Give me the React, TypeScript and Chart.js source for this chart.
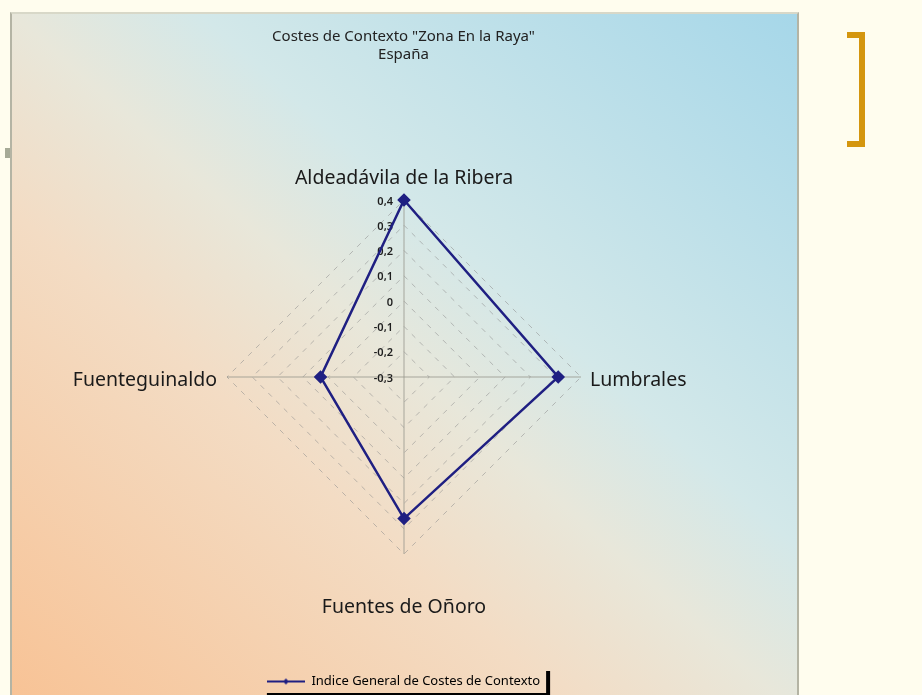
import React, { useEffect, useRef } from 'react';
import { Chart, registerables } from 'chart.js';

Chart.register(...registerables);

// ---- data ----
const categories = ['Aldeadávila de la Ribera', 'Lumbrales', 'Fuentes de Oñoro', 'Fuenteguinaldo'];
const indiceValues = [0.4, 0.31, 0.26, 0.03];
const seriesName = 'Indice General de Costes de Contexto';
const titleLines = ['Costes de Contexto "Zona En la Raya"', 'España'];
const tickMin = -0.3;
const tickMax = 0.4;
const tickStep = 0.1;

// ---- layout / style ----
const W = 922;
const H = 700;
const CX = 404;
const CY = 377;
const RADIUS = 177;
const LINE_COLOR = '#1f1f82';
const LABEL_FONT = '19.5px "Noto Sans"';
const labelPlacement = [
  { dist: 199, align: 'center', dy: 0 },
  { dist: 186, align: 'left', dy: 3 },
  { dist: 230, align: 'center', dy: 0 },
  { dist: 187, align: 'right', dy: 3 },
];

const formatTick = (v: number) => {
  const r = Math.round(v * 10) / 10;
  return r === 0 ? '0' : r.toFixed(1).replace('.', ',');
};

function makeLegendMarker(): HTMLCanvasElement {
  const c = document.createElement('canvas');
  c.width = 38;
  c.height = 10;
  const g = c.getContext('2d')!;
  g.strokeStyle = LINE_COLOR;
  g.lineWidth = 2;
  g.beginPath();
  g.moveTo(0, 5);
  g.lineTo(38, 5);
  g.stroke();
  g.fillStyle = LINE_COLOR;
  g.beginPath();
  g.moveTo(19, 2);
  g.lineTo(22, 5);
  g.lineTo(19, 8);
  g.lineTo(16, 5);
  g.closePath();
  g.fill();
  return c;
}

const overlayPlugin = {
  id: 'overlay',
  beforeDatasetsDraw(chart: any) {
    const scale = chart.scales.r;
    const ctx = chart.ctx;
    ctx.save();
    ctx.font = '600 11px "Noto Sans"';
    ctx.fillStyle = '#1e1e1e';
    ctx.textAlign = 'right';
    ctx.textBaseline = 'middle';
    scale.ticks.forEach((t: any) => {
      const d = scale.getDistanceFromCenterForValue(t.value);
      ctx.fillText(formatTick(t.value), scale.xCenter - 11, scale.yCenter - d + 1.5);
    });
    ctx.restore();
  },
  afterDraw(chart: any) {
    const scale = chart.scales.r;
    const ctx = chart.ctx;
    ctx.save();
    ctx.font = LABEL_FONT;
    ctx.fillStyle = '#1a1a1a';
    ctx.textBaseline = 'middle';
    categories.forEach((lab, i) => {
      const p = labelPlacement[i];
      const pos = scale.getPointPosition(i, p.dist);
      ctx.textAlign = p.align as CanvasTextAlign;
      ctx.fillText(lab, pos.x, pos.y + p.dy);
    });
    // legend shadow (right and bottom)
    const lg = chart.legend;
    if (lg && lg.legendHitBoxes && lg.legendHitBoxes[0]) {
      const hb = lg.legendHitBoxes[0];
      const left = hb.left - 2;
      const right = hb.left + hb.width + 6;
      const top = hb.top - 5;
      const bottom = hb.top + hb.height + 5;
      ctx.fillStyle = '#000';
      ctx.fillRect(right, top + 1, 4, bottom - top + 5);
      ctx.fillRect(left + 2, bottom, right - left + 1, 3);
    }
    ctx.restore();
  },
};

export default function App() {
  const ref = useRef<HTMLCanvasElement | null>(null);

  useEffect(() => {
    if (!ref.current) return;
    const marker = makeLegendMarker();
    const chart = new Chart(ref.current, {
      type: 'radar',
      data: {
        labels: categories,
        datasets: [
          {
            label: seriesName,
            data: indiceValues,
            borderColor: LINE_COLOR,
            backgroundColor: 'rgba(0,0,0,0)',
            borderWidth: 2.5,
            fill: false,
            pointStyle: 'rectRot',
            pointRadius: 5,
            pointBackgroundColor: LINE_COLOR,
            pointBorderColor: LINE_COLOR,
            clip: false,
          } as any,
        ],
      },
      options: {
        responsive: false,
        animation: false,
        devicePixelRatio: 1,
        layout: { padding: { left: 10, right: 125, top: 12, bottom: 2 } },
        plugins: {
          title: {
            display: true,
            text: titleLines,
            color: '#222',
            font: { family: '"Noto Sans"', size: 15, weight: 'normal', lineHeight: 1.25 },
            padding: { top: 15, bottom: 0 },
          },
          legend: {
            display: true,
            position: 'bottom',
            labels: {
              usePointStyle: true,
              pointStyle: marker as any,
              pointStyleWidth: 38,
              color: '#222',
              padding: 10,
              font: { family: '"Noto Sans"', size: 13 },
              generateLabels: () => [
                {
                  text: seriesName,
                  pointStyle: marker as any,
                  fillStyle: LINE_COLOR,
                  strokeStyle: LINE_COLOR,
                  lineWidth: 0,
                  hidden: false,
                  datasetIndex: 0,
                } as any,
              ],
            },
          },
          tooltip: { enabled: false },
        },
        scales: {
          r: {
            min: tickMin,
            max: tickMax,
            ticks: { stepSize: tickStep, display: false },
            pointLabels: { display: false },
            grid: { color: 'rgba(140,140,140,0.55)', lineWidth: 1 },
            border: { dash: [5, 6] } as any,
            angleLines: { color: 'rgba(150,150,140,0.8)', lineWidth: 1 },
            afterFit: (scale: any) => {
              scale.xCenter = CX;
              scale.yCenter = CY;
              scale.drawingArea = RADIUS;
            },
          } as any,
        },
      },
      plugins: [overlayPlugin],
    });
    return () => chart.destroy();
  }, []);

  return (
    <div
      style={{
        position: 'fixed',
        left: 0,
        top: 0,
        width: W,
        height: 695,
        overflow: 'hidden',
        background: '#fffdee',
      }}
    >
      <div
        style={{
          position: 'absolute',
          left: 10,
          top: 12,
          width: 785,
          height: 700,
          borderLeft: '2px solid #b4b4a4',
          borderTop: '2px solid #d8d8c8',
          borderRight: '2px solid #b4b4a4',
          background:
            'linear-gradient(to top right, #f8c294 0%, #f3dcc4 36%, #e8e7da 50%, #d3e8e9 62%, #a6d7e9 100%)',
        }}
      />
      <div style={{ position: 'absolute', left: 5, top: 148, width: 5, height: 10, background: '#a6aa96' }} />
      <div
        style={{
          position: 'absolute',
          left: 847,
          top: 32,
          width: 12,
          height: 103,
          borderTop: '6px solid #d4960e',
          borderRight: '6px solid #d4960e',
          borderBottom: '6px solid #d4960e',
        }}
      />
      <canvas ref={ref} width={W} height={H} style={{ position: 'absolute', left: 0, top: 0 }} />
    </div>
  );
}
